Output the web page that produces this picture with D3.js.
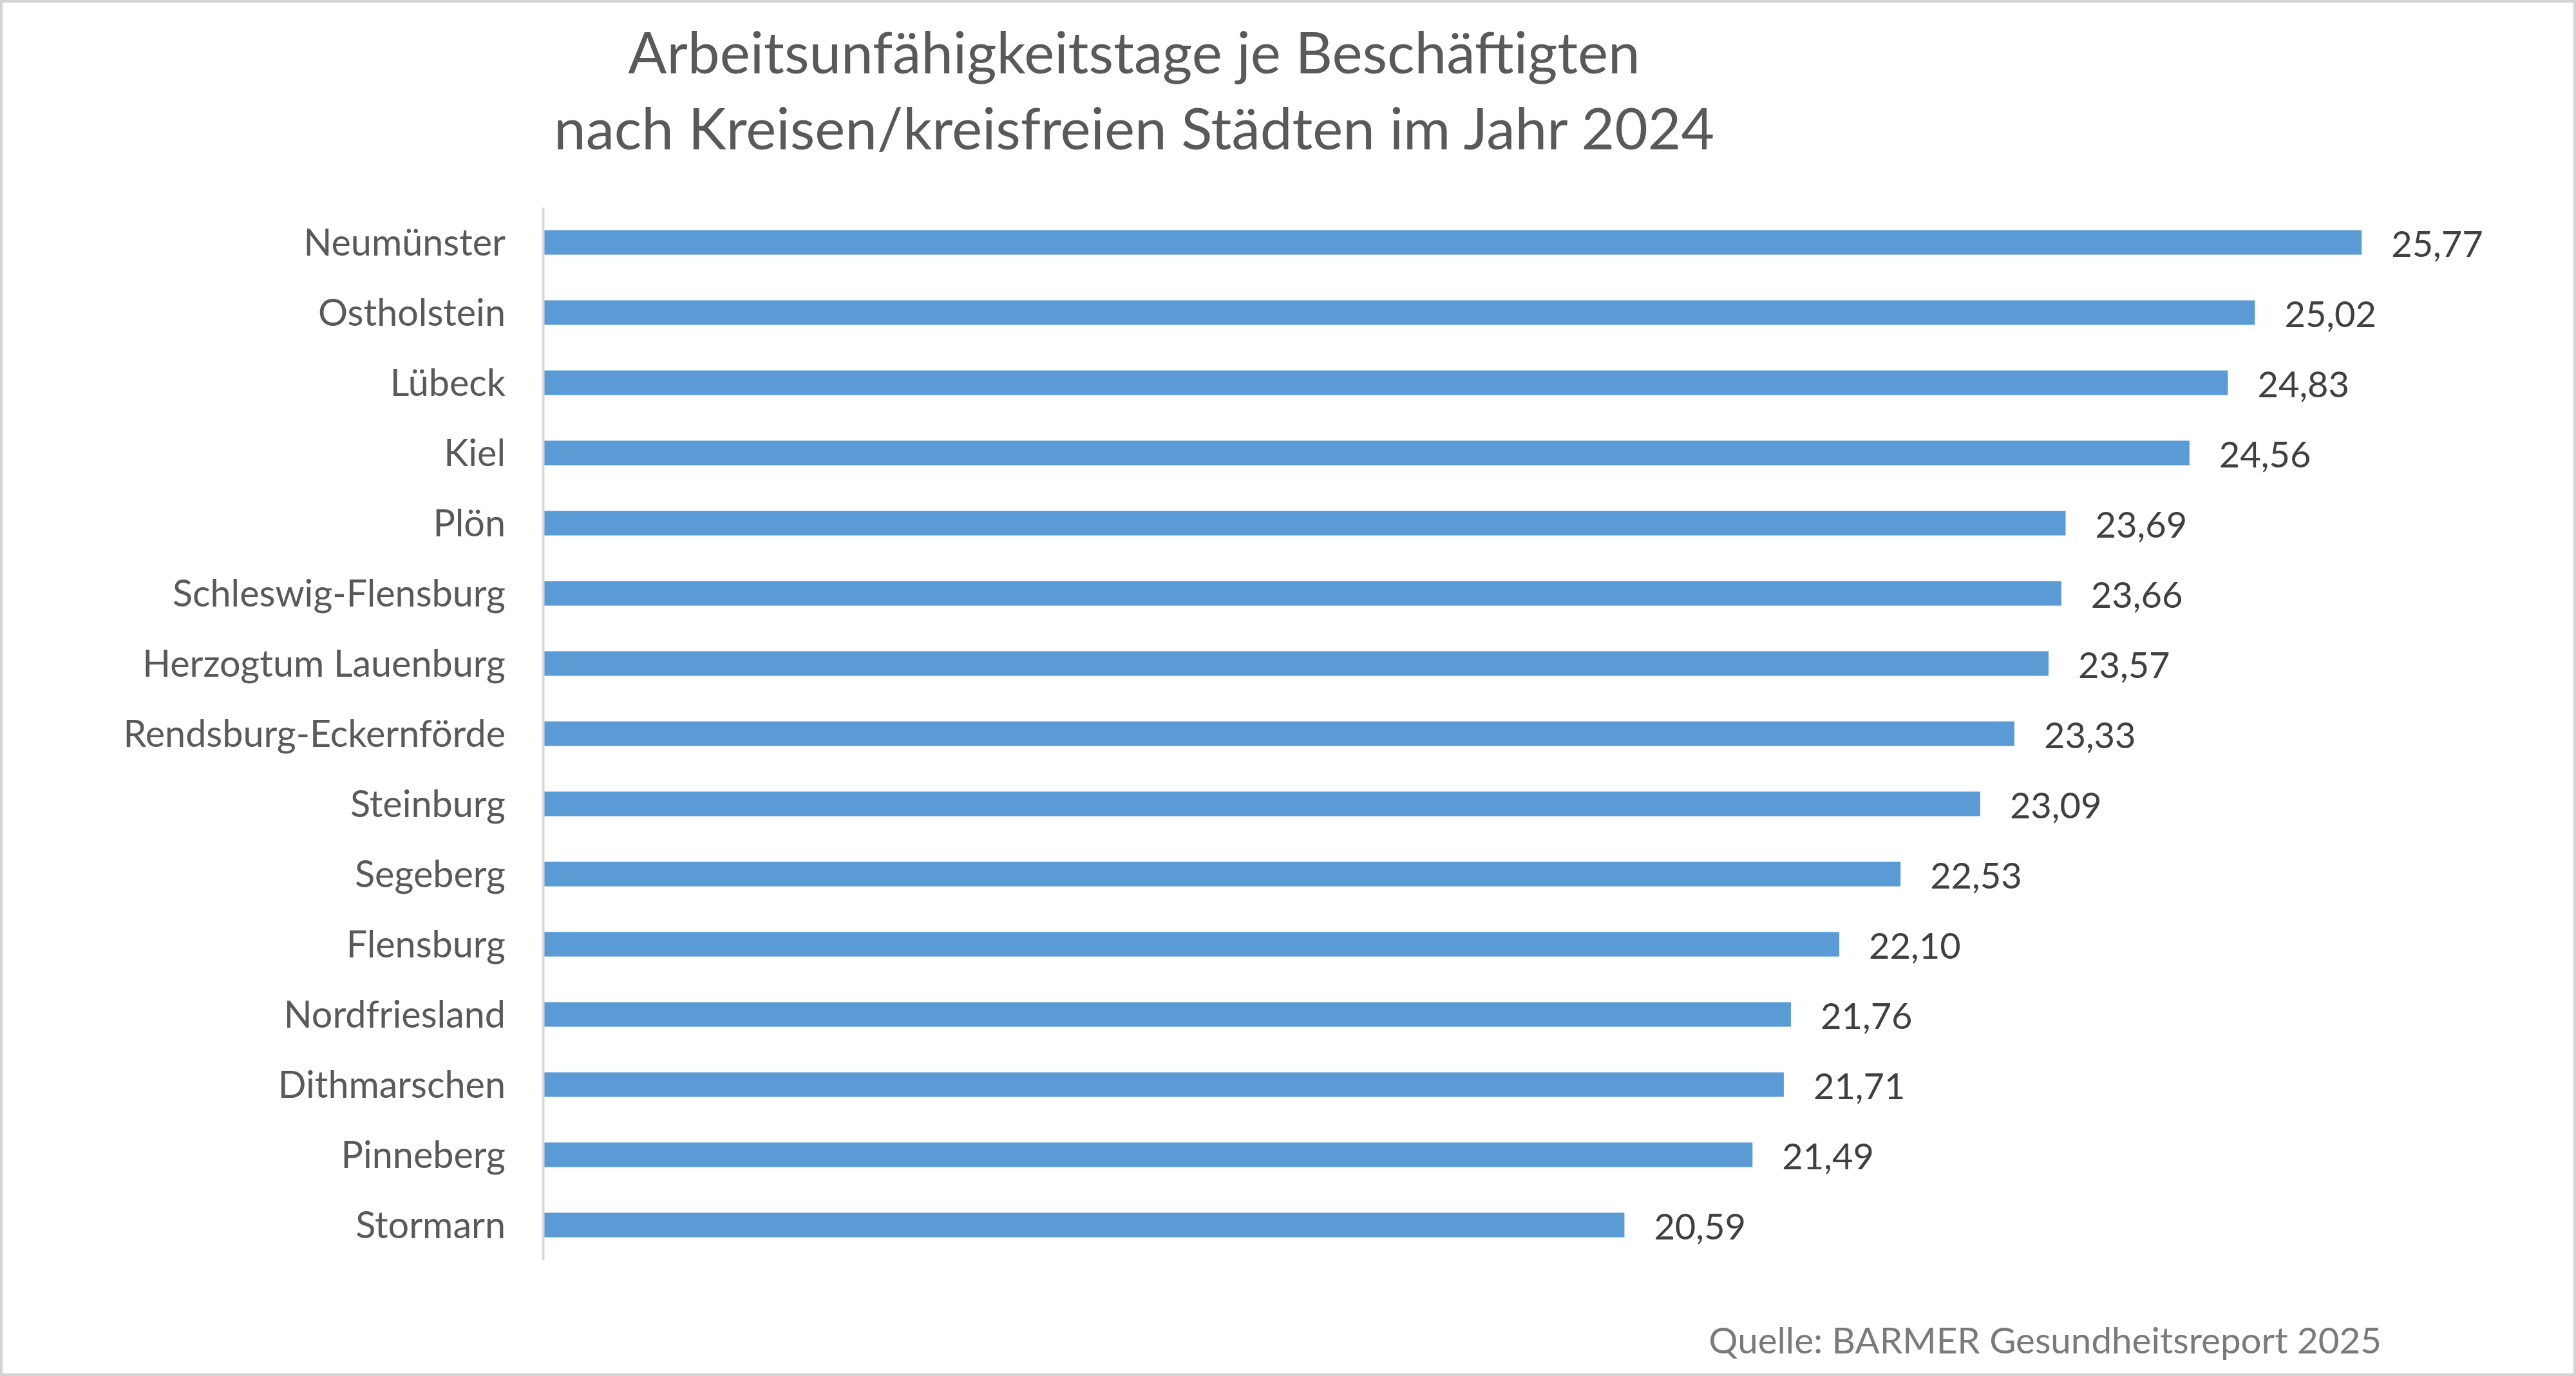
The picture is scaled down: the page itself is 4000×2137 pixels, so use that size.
<!DOCTYPE html>
<html>
<head>
<meta charset="utf-8">
<script src="https://cdn.jsdelivr.net/npm/d3@7"></script>
<style>
  body { margin: 0; background: #fff; }
  svg { display: block; font-family: Lato, "Open Sans", sans-serif; }
</style>
</head>
<body>
<svg width="4000" height="2137"></svg>
<script>
var kreise = ["Neumünster", "Ostholstein", "Lübeck", "Kiel", "Plön", "Schleswig-Flensburg",
    "Herzogtum Lauenburg", "Rendsburg-Eckernförde", "Steinburg", "Segeberg", "Flensburg",
    "Nordfriesland", "Dithmarschen", "Pinneberg", "Stormarn"];
var auTage = [25.77, 25.02, 24.83, 24.56, 23.69, 23.66, 23.57, 23.33, 23.09, 22.53, 22.10,
    21.76, 21.71, 21.49, 20.59];
var titelZeilen = ["Arbeitsunfähigkeitstage je Beschäftigten",
    "nach Kreisen/kreisfreien Städten im Jahr 2024"];
var quelle = "Quelle: BARMER Gesundheitsreport 2025";

var data = kreise.map(function(k, i) { return { name: k, value: auTage[i] }; });

var svg = d3.select("svg");

// chart frame
svg.append("rect")
    .attr("x", 2).attr("y", 2)
    .attr("width", 3996).attr("height", 2133)
    .attr("fill", "#fff")
    .attr("stroke", "#d4d4d4")
    .attr("stroke-width", 4);

var xScale = d3.scaleLinear().domain([13, 27]).range([845, 3939]);
var yScale = d3.scaleBand().domain(kreise).range([322, 1957])
    .paddingInner(0.65).paddingOuter(0.325);

// title
svg.append("g").selectAll("text")
    .data(titelZeilen)
    .enter().append("text")
    .attr("x", 1761)
    .attr("y", function(d, i) { return 114 + i * 118; })
    .attr("text-anchor", "middle")
    .attr("font-size", "89px")
    .attr("fill", "#595959")
    .text(function(d) { return d; });

// bars
svg.append("g").selectAll(".bar")
    .data(data)
    .enter().append("rect")
    .attr("class", "bar")
    .attr("x", xScale(13))
    .attr("y", function(d) { return yScale(d.name); })
    .attr("width", function(d) { return xScale(d.value) - xScale(13); })
    .attr("height", yScale.bandwidth())
    .attr("fill", "#5b9bd5");

// category axis
var yAxis = svg.append("g")
    .attr("transform", "translate(843,0)")
    .call(d3.axisLeft(yScale).tickSize(0).tickPadding(58));
yAxis.select(".domain")
    .attr("stroke", "#d9d9d9")
    .attr("stroke-width", 4);
yAxis.selectAll("text")
    .attr("font-family", "Lato, 'Open Sans', sans-serif")
    .attr("font-size", "57.5px")
    .attr("fill", "#595959")
    .attr("dy", "0.36em");

// value labels
svg.append("g").selectAll("text")
    .data(data)
    .enter().append("text")
    .attr("x", function(d) { return xScale(d.value) + 46; })
    .attr("y", function(d) { return yScale(d.name) + yScale.bandwidth() / 2; })
    .attr("dy", "0.4em")
    .attr("font-size", "56px")
    .attr("fill", "#404040")
    .text(function(d) { return d3.format(".2f")(d.value).replace(".", ","); });

// source
svg.append("text")
    .attr("x", 3698)
    .attr("y", 2102)
    .attr("text-anchor", "end")
    .attr("font-size", "56.5px")
    .attr("fill", "#7a7a7a")
    .text(quelle);
</script>
</body>
</html>
